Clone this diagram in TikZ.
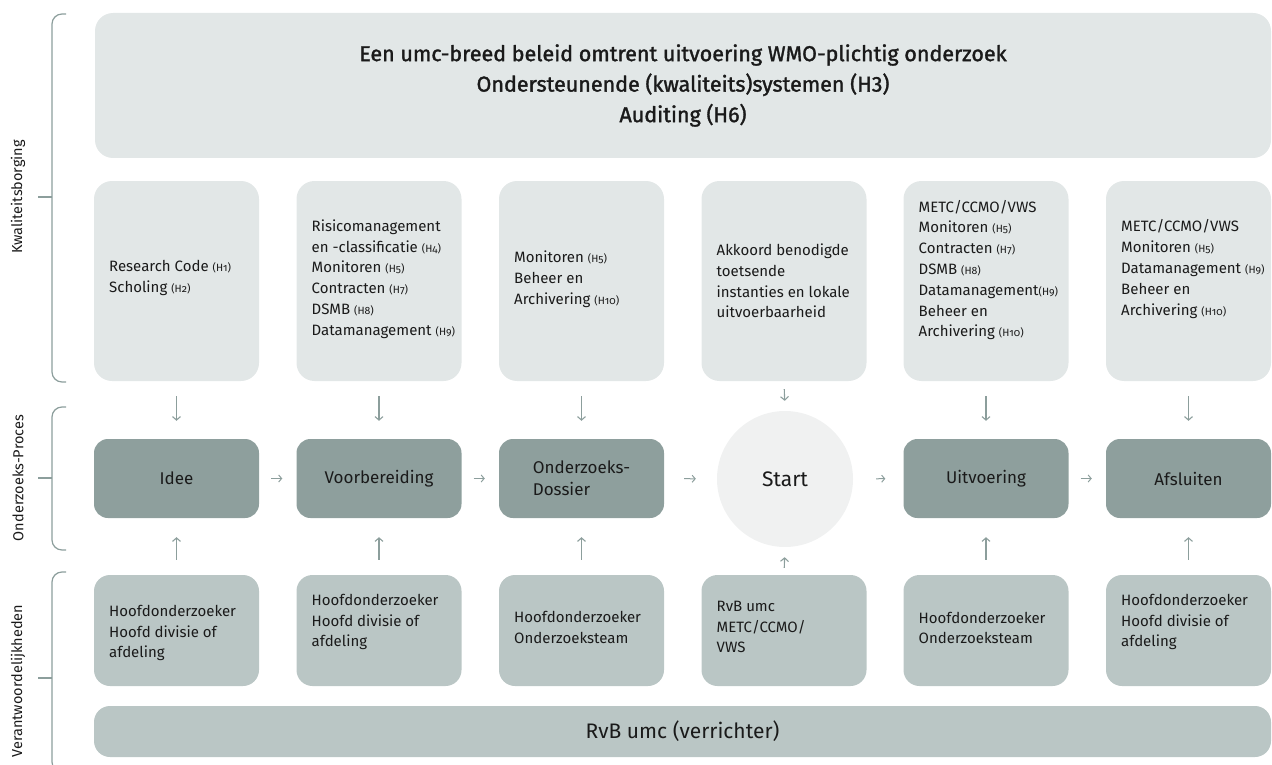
\documentclass[tikz,border=0pt]{standalone}
\usepackage{fontspec}
\setmainfont{Fira Sans}
\newfontfamily\titlefont{Fira Sans}[FakeBold=1.5]
\usetikzlibrary{arrows.meta}
\definecolor{lightbox}{HTML}{E2E7E7}
\definecolor{procbox}{HTML}{8E9F9D}
\definecolor{botbox}{HTML}{BAC6C5}
\definecolor{startfill}{HTML}{F0F1F1}
\definecolor{arrowcol}{HTML}{8C9E9C}
\definecolor{textcol}{HTML}{1A1A1A}
\newcommand\hh[1]{{\fontsize{10.5}{10.5}\selectfont\addfontfeatures{Numbers=OldStyle}(H#1)}}
\begin{document}
\begin{tikzpicture}[x=1pt,y=-1pt,
  lbox/.style={fill=lightbox, rounded corners=18pt, minimum width=165pt, minimum height=200pt, inner sep=0pt},
  pbox/.style={fill=procbox, rounded corners=14pt, minimum width=165pt, minimum height=79pt, inner sep=0pt, font=\fontsize{17}{22}\selectfont, align=left, text=textcol},
  bbox/.style={fill=botbox, rounded corners=16pt, minimum width=165pt, minimum height=111pt, inner sep=0pt},
  txt/.style={anchor=west, align=left, inner sep=0pt, font=\fontsize{15}{20.8}\selectfont, text=textcol},
  arr/.style={draw=arrowcol, line width=1.1pt, -{Straight Barb[length=3.5pt,width=8pt]}},
  harr/.style={draw=arrowcol, line width=1pt, -{Straight Barb[length=3pt,width=7pt]}},
  brk/.style={draw=arrowcol, line width=1.2pt, rounded corners=10pt},
  lab/.style={rotate=90, font=\fontsize{14.5}{14.5}\selectfont, text=textcol, inner sep=0pt}
]
\useasboundingbox (0,0) rectangle (1272,765);

% left brackets and labels
\draw[brk] (66,14) -- (52,14) -- (52,382) -- (66,382);
\draw[brk] (52,197) -- (38,197);
\node[lab] (lk) at (18,197) {Kwaliteitsborging};
\draw[brk] (66,407) -- (52,407) -- (52,550) -- (66,550);
\draw[brk] (52,478) -- (38,478);
\node[lab] (lo) at (18,478) {Onderzoeks-Proces};
\draw[brk] (66,572) -- (52,572) -- (52,772) -- (66,772);
\draw[brk] (52,678) -- (38,678);
\node[lab] (lv) at (18,681) {Verantwoordelijkheden};

% top wide box
\node[fill=lightbox, rounded corners=18pt, minimum width=1176pt, minimum height=145pt, inner sep=0pt, align=center, text=textcol, font=\titlefont\fontsize{21.5}{30.5}\selectfont] (top) at (683,85.5)
  {Een umc-breed beleid omtrent uitvoering WMO-plichtig onderzoek\\Ondersteunende (kwaliteits)systemen (H3)\\Auditing (H6)};

% quality boxes
\node[lbox] (t1) at (176.5,281) {};
\node[lbox] (t2) at (379,281) {};
\node[lbox] (t3) at (581.5,281) {};
\node[lbox] (t4) at (784,281) {};
\node[lbox] (t5) at (986,281) {};
\node[lbox] (t6) at (1188.5,281) {};

\node[txt] (t1x) at (109,278) {Research Code \hh{1}\\Scholing \hh{2}};
\node[txt] (t2x) at (311.5,279) {Risicomanagement\\en -classificatie \hh{4}\\Monitoren \hh{5}\\Contracten \hh{7}\\DSMB \hh{8}\\Datamanagement \hh{9}};
\node[txt] (t3x) at (514,279) {Monitoren \hh{5}\\Beheer en\\Archivering \hh{10}};
\node[txt] (t4x) at (716.5,281) {Akkoord benodigde\\toetsende\\instanties en lokale\\uitvoerbaarheid};
\node[txt] (t5x) at (918.5,270) {METC/CCMO/VWS\\Monitoren \hh{5}\\Contracten \hh{7}\\DSMB \hh{8}\\Datamanagement\hh{9}\\Beheer en\\Archivering \hh{10}};
\node[txt] (t6x) at (1121,269) {METC/CCMO/VWS\\Monitoren \hh{5}\\Datamanagement \hh{9}\\Beheer en\\Archivering \hh{10}};

% process row
\node[pbox] (p1) at (176.5,478.5) {Idee};
\node[pbox] (p2) at (379,478.5) {Voorbereiding};
\node[pbox] (p3) at (581.5,478.5) {Onderzoeks-\\Dossier};
\node[circle, fill=startfill, minimum size=136pt, inner sep=0pt, text=textcol, font=\fontsize{21}{21}\selectfont] (s) at (785,479) {Start};
\node[pbox] (p5) at (986,478.5) {Uitvoering};
\node[pbox] (p6) at (1188.5,478.5) {Afsluiten};

% responsibility boxes
\node[bbox] (b1) at (176.5,630.5) {};
\node[bbox] (b2) at (379,630.5) {};
\node[bbox] (b3) at (581.5,630.5) {};
\node[bbox] (b4) at (784,630.5) {};
\node[bbox] (b5) at (986,630.5) {};
\node[bbox] (b6) at (1188.5,630.5) {};

\node[txt] (b1x) at (109,633) {Hoofdonderzoeker\\Hoofd divisie of\\afdeling};
\node[txt] (b2x) at (311.5,622) {Hoofdonderzoeker\\Hoofd divisie of\\afdeling};
\node[txt] (b3x) at (514,627.5) {Hoofdonderzoeker\\Onderzoeksteam};
\node[txt] (b4x) at (716.5,627) {RvB umc\\METC/CCMO/\\VWS};
\node[txt] (b5x) at (918.5,628) {Hoofdonderzoeker\\Onderzoeksteam};
\node[txt] (b6x) at (1121,622) {Hoofdonderzoeker\\Hoofd divisie of\\afdeling};

\node[fill=botbox, rounded corners=16pt, minimum width=1177pt, minimum height=51pt, inner sep=0pt, text=textcol, font=\fontsize{21}{21}\selectfont] (rvb) at (682.5,731.5) {RvB umc (verrichter)};

% vertical arrows
\foreach \i in {1,2,3,5,6} {
  \draw[arr, shorten <=15pt, shorten >=18pt] (t\i.south) -- (p\i.north);
  \draw[arr, shorten <=15pt, shorten >=19pt] (b\i.north) -- (p\i.south);
}
\draw[arr, shorten <=8pt, shorten >=10pt] (t4.south) -- (s.north);
\draw[arr, shorten <=7pt, shorten >=10pt] (b4.north) -- (s.south);

% horizontal arrows
\draw[harr, shorten <=12pt, shorten >=14pt] (p1.east) -- (p2.west);
\draw[harr, shorten <=12pt, shorten >=14pt] (p2.east) -- (p3.west);
\draw[harr, shorten <=20pt, shorten >=21pt] (p3.east) -- (s.west);
\draw[harr, shorten <=23pt, shorten >=18pt] (s.east) -- (p5.west);
\draw[harr, shorten <=12pt, shorten >=14pt] (p5.east) -- (p6.west);
\end{tikzpicture}
\end{document}
